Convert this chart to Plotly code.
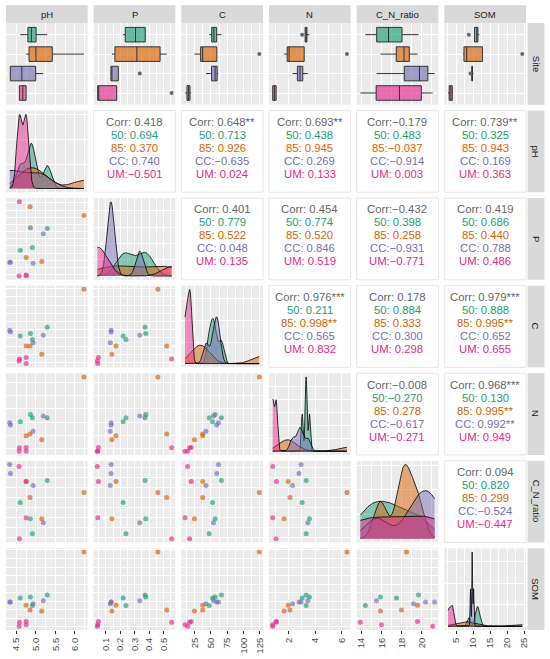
import numpy as np
import plotly.graph_objects as go
from plotly.subplots import make_subplots

# 4 samples per site, order: 50, 85, CC, UM
site = ["50"] * 4 + ["85"] * 4 + ["CC"] * 4 + ["UM"] * 4
site_levels = ["50", "85", "CC", "UM"]
site_colors = [(27, 158, 119), (217, 95, 2), (117, 112, 179), (231, 41, 138)]

ph = [4.91, 4.86, 4.60, 5.29, 6.23, 5.15, 4.85, 4.75, 5.19, 4.93, 4.35, 4.33, 4.58, 4.75, 4.75, 4.57]
p = [0.239, 0.377, 0.219, 0.372, 0.461, 0.141, 0.523, 0.169, 0.335, 0.130, 0.136, 0.136, 0.557, 0.043, 0.047, 0.040]
c = [47.5, 56.5, 52.6, 66.1, 124.0, 25.0, 37.5, 37.5, 54.0, 42.5, 59.0, 61.6, 17.5, 10.6, 20.0, 14.5]
n = [3.32, 3.57, 3.02, 3.32, 6.40, 1.66, 2.10, 1.97, 3.45, 2.30, 2.78, 2.94, 1.05, 0.80, 1.08, 0.80]
cn = [14.4, 15.9, 17.5, 19.7, 18.5, 15.9, 18.0, 19.6, 15.5, 19.2, 20.4, 21.3, 13.9, 16.0, 19.6, 21.1]
som = [8.7, 11.2, 10.9, 11.8, 24.4, 7.06, 7.35, 8.8, 10.1, 9.2, 9.7, 9.7, 3.8, 3.05, 4.0, 2.6]

var_names = ["pH", "P", "C", "N", "C_N_ratio", "SOM"]
var_data = [ph, p, c, n, cn, som]
var_dtick = [0.5, 0.1, 25, 2, 2, 5]
var_fmt = [".1f", ".1f", "d", "d", "d", "d"]

# correlation labels, upper triangle read row by row
cor_all = ["0.418", "0.648**", "0.693**", "−0.179", "0.739**", "0.401", "0.454", "−0.432", "0.419",
           "0.976***", "0.178", "0.979***", "−0.008", "0.968***", "0.094"]
cor_50 = ["0.694", "0.713", "0.438", "0.483", "0.325", "0.779", "0.774", "0.398", "0.686",
          "0.211", "0.884", "0.888", "−0.270", "0.130", "0.820"]
cor_85 = ["0.370", "0.926", "0.945", "−0.037", "0.943", "0.522", "0.520", "0.258", "0.440",
          "0.998**", "0.333", "0.995**", "0.278", "0.995**", "0.299"]
cor_cc = ["0.740", "−0.635", "0.269", "−0.914", "0.169", "0.048", "0.846", "−0.931", "0.788",
          "0.565", "0.300", "0.652", "−0.617", "0.992**", "−0.524"]
cor_um = ["−0.501", "0.024", "0.133", "0.003", "0.363", "0.135", "0.519", "−0.771", "0.486",
          "0.832", "0.298", "0.655", "−0.271", "0.949", "−0.447"]

FONT = "Liberation Sans, Arial, sans-serif"
W, H = 550, 659
ML, MR, MT, MB = 5, 24, 23, 27
pw, ph_ = W - ML - MR, H - MT - MB


def rgba(col, a):
    return "rgba(%d,%d,%d,%.2f)" % (col[0], col[1], col[2], a)


def group(vals, lvl):
    return [v for v, s in zip(vals, site) if s == lvl]


def xrange_of(vals):
    lo, hi = min(vals), max(vals)
    pad = 0.05 * (hi - lo)
    return [lo - pad, hi + pad]


def bw_nrd0(vals):
    v = np.asarray(vals, float)
    q1, q3 = np.percentile(v, [25, 75])
    lo = min(np.std(v, ddof=1), (q3 - q1) / 1.34)
    if lo == 0:
        lo = np.std(v, ddof=1) or abs(v[0]) or 1
    return 0.9 * lo * len(v) ** -0.2


def kde(vals, grid):
    v = np.asarray(vals, float)
    bw = bw_nrd0(v)
    z = (grid[:, None] - v[None, :]) / bw
    return np.exp(-0.5 * z ** 2).sum(axis=1) / (len(v) * bw * np.sqrt(2 * np.pi))


def nice_step(top):
    raw = top / 3.0
    mag = 10 ** np.floor(np.log10(raw))
    for m in [1, 2, 2.5, 5, 10]:
        if m * mag >= raw:
            return m * mag


fig = make_subplots(rows=7, cols=6, horizontal_spacing=6 / pw, vertical_spacing=5.9 / ph_)

# top row: boxplots by site
for j, vals in enumerate(var_data):
    for lvl, col in zip(site_levels, site_colors):
        v = np.array(group(vals, lvl))
        q1, med, q3 = np.percentile(v, [25, 50, 75])
        iqr = q3 - q1
        inside = v[(v >= q1 - 1.5 * iqr) & (v <= q3 + 1.5 * iqr)]
        outs = v[(v < q1 - 1.5 * iqr) | (v > q3 + 1.5 * iqr)]
        fig.add_trace(go.Box(y=[lvl], q1=[q1], median=[med], q3=[q3],
                             lowerfence=[inside.min()], upperfence=[inside.max()],
                             orientation="h", width=0.75, whiskerwidth=0,
                             fillcolor=rgba(col, 0.65), line=dict(color="#333333", width=1),
                             boxpoints=False, hoverinfo="skip"), row=1, col=j + 1)
        if len(outs):
            fig.add_trace(go.Scatter(x=outs, y=[lvl] * len(outs), mode="markers",
                                     marker=dict(color="#666666", size=4), hoverinfo="skip"),
                          row=1, col=j + 1)

# diagonal densities and lower scatter plots
dens_top = {}
for i, yvals in enumerate(var_data):
    r = i + 2
    for j, xvals in enumerate(var_data):
        if j > i:
            continue
        if j == i:
            grid = np.linspace(min(xvals), max(xvals), 512)
            top = 0
            for lvl, col in zip(site_levels, site_colors):
                d = kde(group(xvals, lvl), grid)
                top = max(top, d.max())
                fig.add_trace(go.Scatter(x=grid, y=d, mode="lines", fill="tozeroy",
                                         fillcolor=rgba(col, 0.5),
                                         line=dict(color="black", width=0.8),
                                         hoverinfo="skip"), row=r, col=j + 1)
            dens_top[i] = top
        else:
            for lvl, col in zip(site_levels, site_colors):
                fig.add_trace(go.Scatter(x=group(xvals, lvl), y=group(yvals, lvl), mode="markers",
                                         marker=dict(color=rgba(col, 0.65), size=5),
                                         hoverinfo="skip"), row=r, col=j + 1)

# axes
for r in range(1, 8):
    for col in range(1, 7):
        j = col - 1
        xa = dict(range=xrange_of(var_data[j]), dtick=var_dtick[j], tick0=0,
                  showgrid=True, gridcolor="white", gridwidth=1, zeroline=False,
                  minor=dict(dtick=var_dtick[j] / 2, tick0=0, showgrid=True,
                             gridcolor="white", gridwidth=0.5),
                  showticklabels=(r == 7), ticks="outside" if r == 7 else "",
                  ticklen=3, tickcolor="#333333", tickwidth=1, tickangle=-90,
                  tickformat=var_fmt[j], tickfont=dict(family=FONT, size=9.5, color="#4D4D4D"))
        if r == 1:
            ya = dict(type="category", categoryorder="array", categoryarray=site_levels[::-1],
                      range=[-0.6, 3.6], showgrid=True, gridcolor="white", gridwidth=1,
                      showticklabels=False, ticks="")
        elif r - 2 == j:
            top = dens_top[j]
            step = nice_step(top)
            ya = dict(range=[-0.05 * top, 1.05 * top], dtick=step, tick0=0, showgrid=True,
                      gridcolor="white", gridwidth=1, zeroline=False, showticklabels=False,
                      ticks="", minor=dict(dtick=step / 2, tick0=0, showgrid=True,
                                           gridcolor="white", gridwidth=0.5))
        elif r - 2 > j:
            i = r - 2
            ya = dict(range=xrange_of(var_data[i]), dtick=var_dtick[i], tick0=0,
                      showgrid=True, gridcolor="white", gridwidth=1, zeroline=False,
                      showticklabels=False, ticks="",
                      minor=dict(dtick=var_dtick[i] / 2, tick0=0, showgrid=True,
                                 gridcolor="white", gridwidth=0.5))
        else:
            xa = dict(visible=False, showgrid=False)
            ya = dict(visible=False, showgrid=False)
        fig.update_xaxes(xa, row=r, col=col)
        fig.update_yaxes(ya, row=r, col=col)


def dom(r, col):
    k = (r - 1) * 6 + col
    sx = "" if k == 1 else str(k)
    return fig.layout["xaxis" + sx].domain, fig.layout["yaxis" + sx].domain


shapes = []
annotations = []

# correlation panels
k = 0
for i in range(6):
    for j in range(i + 1, 6):
        xd, yd = dom(i + 2, j + 1)
        shapes.append(dict(type="rect", xref="paper", yref="paper", x0=xd[0], x1=xd[1],
                           y0=yd[0], y1=yd[1], fillcolor="white",
                           line=dict(color="#E6E6E6", width=1), layer="below"))
        lines = [("Corr", cor_all[k], "#666666")]
        for lvl, vals, colr in zip(site_levels, [cor_50, cor_85, cor_cc, cor_um], site_colors):
            lines.append((lvl, vals[k], rgba(colr, 1)))
        for li, (lab, val, colr) in enumerate(lines):
            sep = ":" if val.startswith("−") else ": "
            annotations.append(dict(text=lab + sep + val, xref="paper", yref="paper",
                                    x=(xd[0] + xd[1]) / 2, y=(yd[0] + yd[1]) / 2,
                                    xanchor="center", yanchor="middle", showarrow=False,
                                    yshift=29.5 - 13 * li,
                                    font=dict(family=FONT, size=11.3, color=colr)))
        k += 1

# strips
for col in range(1, 7):
    xd, yd = dom(1, col)
    shapes.append(dict(type="rect", xref="paper", yref="paper", x0=xd[0], x1=xd[1],
                       y0=yd[1], y1=yd[1] + 17.7 / ph_, fillcolor="#D9D9D9",
                       line=dict(width=0), layer="below"))
    annotations.append(dict(text=var_names[col - 1], xref="paper", yref="paper",
                            x=(xd[0] + xd[1]) / 2, y=yd[1] + 8.9 / ph_,
                            showarrow=False, xanchor="center", yanchor="middle",
                            font=dict(family=FONT, size=9.5, color="#1A1A1A")))
row_labels = ["Site"] + var_names
for r in range(1, 8):
    xd, yd = dom(r, 6)
    shapes.append(dict(type="rect", xref="paper", yref="paper", x0=xd[1] + 1.6 / pw,
                       x1=xd[1] + 18.5 / pw, y0=yd[0], y1=yd[1], fillcolor="#D9D9D9",
                       line=dict(width=0), layer="below"))
    annotations.append(dict(text=row_labels[r - 1], xref="paper", yref="paper",
                            x=xd[1] + 10 / pw, y=(yd[0] + yd[1]) / 2,
                            showarrow=False, xanchor="center", yanchor="middle", textangle=90,
                            font=dict(family=FONT, size=9.5, color="#1A1A1A")))

fig.update_layout(width=W, height=H, margin=dict(l=ML, r=MR, t=MT, b=MB),
                  plot_bgcolor="#EBEBEB", paper_bgcolor="white", showlegend=False,
                  shapes=shapes, annotations=annotations, font=dict(family=FONT))
fig.write_html("out.html", config={"displayModeBar": False},
               post_script="document.body.style.margin='0px';")
